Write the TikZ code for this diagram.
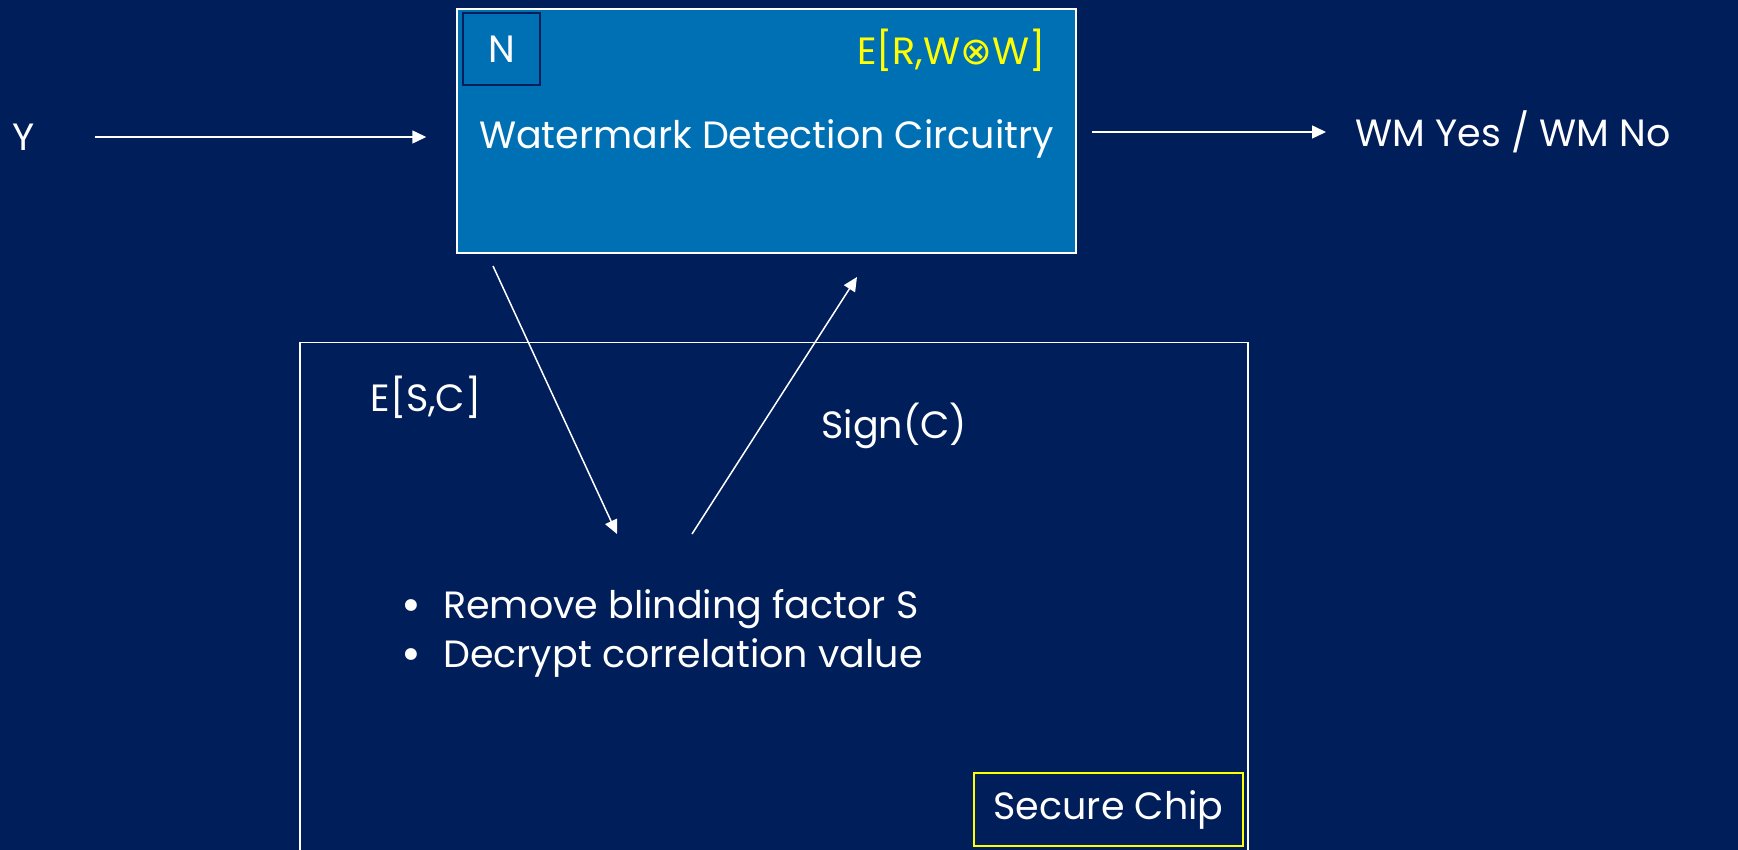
\documentclass[tikz,border=0pt]{standalone}
\usepackage{fontspec}
\setmainfont{Poppins}
\newfontfamily\symfont{DejaVu Sans}
\usepackage{tikz}
\usetikzlibrary{arrows.meta,positioning}
\definecolor{slidenavy}{HTML}{001E5A}
\definecolor{circuitblue}{HTML}{0070B5}
\definecolor{chipyellow}{HTML}{FFFF00}
\newcommand{\bigbullet}{\raisebox{-3pt}{\fontsize{48}{40}\selectfont\textbullet}}

\begin{document}
\begin{tikzpicture}[x=1pt,y=-1pt,>={Triangle[length=14pt,width=13pt]},
    every node/.style={text=white,font=\fontsize{38}{49}\selectfont},
    flow/.style={->,draw=white,line width=1.5pt}]
        \fill[slidenavy] (0,0) rectangle (1738,850);
        \clip (0,0) rectangle (1738,850);
        \node[draw=white,line width=1.5pt,fill=circuitblue,minimum width=619pt,minimum height=244pt,text height=44pt] (box) at (766.5,131) {Watermark Detection Circuitry};
        \node[draw=slidenavy,line width=1.5pt,minimum width=77pt,minimum height=72pt,below right=4pt and 6pt of box.north west] (n) {N};
        \node[text=chipyellow,anchor=east] (key) at (1049,50) {E[R,W{\symfont ⊗}W]};
        \node (y) at (24,137) {Y};
        \node[anchor=west] (wm) at (1352,132) {WM Yes / WM No};
        \node[draw=white,line width=1.5pt,anchor=north west,minimum width=948pt,minimum height=540pt] (chip) at (299,342) {};
        \node[anchor=west] (sc) at (367,397) {E[S,C]};
        \node[anchor=west] (sign) at (818,426) {Sign(C)};
        \node[anchor=west,align=left] (tasks) at (398,633) {\bigbullet\hspace{22pt}Remove blinding factor S\\\bigbullet\hspace{22pt}Decrypt correlation value};
        \node[draw=chipyellow,line width=1.5pt,minimum width=269pt,minimum height=73pt] (label) at (1108.5,809.5) {Secure Chip};
        \coordinate (blindin) at (617,534);
        \coordinate (blindout) at (692,534);
        \coordinate (corrout) at (493,266);
        \coordinate (signin) at (857,277);
        \draw[flow,shorten <=56pt,shorten >=30pt] (y.east) -- (y.east -| box.west);
        \draw[flow,shorten <=15pt,shorten >=26pt] (box.east |- wm.west) -- (wm.west);
        \draw[flow] (corrout) -- (blindin);
        \draw[flow] (blindout) -- (signin);
      \end{tikzpicture}
\end{document}
